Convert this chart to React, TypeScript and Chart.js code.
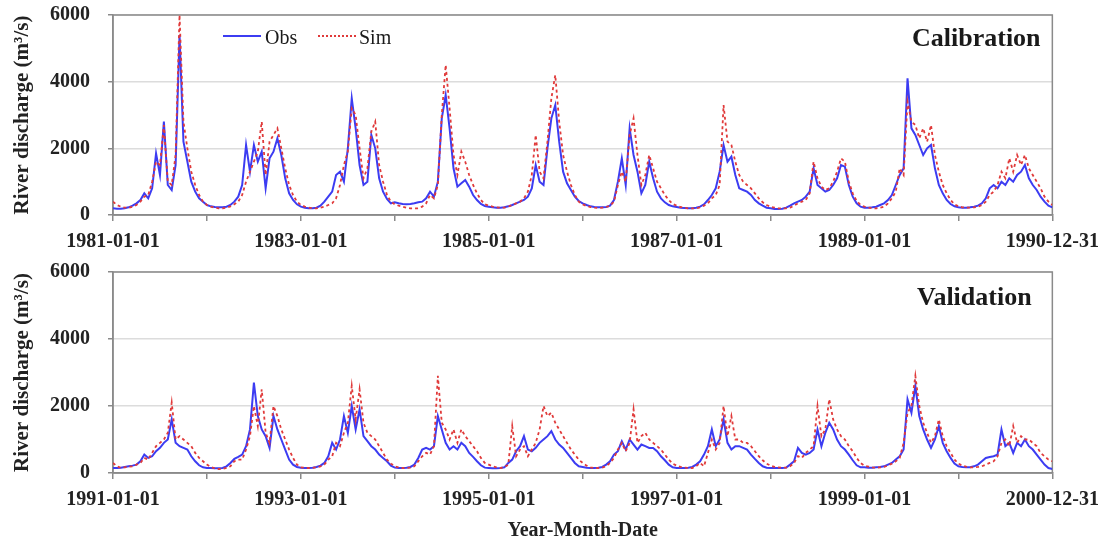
import React, { useEffect, useRef } from "react";
import { Chart, registerables } from "chart.js";

Chart.register(...registerables);

const SERIF = '"Liberation Serif", "Times New Roman", Times, serif';
const OBS_COLOR = "#3c3cf2";
const SIM_COLOR = "#e03a3a";
const STEPS_PER_YEAR = 24;

const Y_TICKS = [0, 2000, 4000, 6000];

const CAL_YEARS = [1981, 1982, 1983, 1984, 1985, 1986, 1987, 1988, 1989, 1990, 1991];
const CAL_TICK_LABELS = ["1981-01-01", "", "1983-01-01", "", "1985-01-01", "", "1987-01-01", "", "1989-01-01", "", "1990-12-31"];
const VAL_YEARS = [1991, 1992, 1993, 1994, 1995, 1996, 1997, 1998, 1999, 2000, 2001];
const VAL_TICK_LABELS = ["1991-01-01", "", "1993-01-01", "", "1995-01-01", "", "1997-01-01", "", "1999-01-01", "", "2000-12-31"];

// Calibration 1981-1990, semi-monthly values (m3/s)
const calObs = [
  200, 190, 190, 200, 230, 280, 350, 450, 650, 500, 800, 1850, 1200, 2800, 900, 750, 1500, 5400, 2200, 1600, 1000, 700, 500, 400,
  300, 260, 240, 230, 230, 250, 300, 400, 550, 900, 2100, 1300, 2100, 1600, 1900, 800, 1700, 1900, 2300, 1800, 1100, 650, 450, 320,
  250, 220, 200, 200, 220, 280, 400, 550, 700, 1200, 1300, 1000, 2000, 3500, 2600, 1500, 900, 1000, 2400, 2000, 1100, 700, 480, 350,
  380, 350, 330, 320, 330, 350, 380, 400, 500, 700, 550, 1000, 2900, 3600, 2600, 1400, 850, 950, 1050, 850, 600, 450, 330, 270,
  250, 230, 220, 220, 230, 260, 300, 350, 400, 450, 550, 800, 1500, 1000, 900, 2000, 2900, 3300, 2200, 1300, 950, 750, 550, 420,
  350, 300, 260, 240, 230, 230, 240, 280, 450, 1000, 1700, 900, 2600, 1800, 1300, 650, 900, 1600, 1100, 700, 500, 380, 300, 260,
  240, 220, 210, 200, 200, 220, 250, 320, 450, 600, 800, 1300, 2100, 1600, 1750, 1200, 800, 750, 700, 600, 450, 350, 280, 220,
  200, 180, 180, 190, 220, 280, 350, 400, 450, 550, 700, 1400, 900, 800, 700, 750, 900, 1100, 1500, 1450, 900, 550, 350, 250,
  220, 220, 230, 250, 300, 350, 450, 600, 900, 1200, 1400, 4100, 2600, 2400, 2100, 1800, 2000, 2100, 1400, 900, 650, 450, 330, 260,
  230, 220, 220, 230, 250, 280, 350, 500, 800, 900, 800, 1000, 900, 1100, 1000, 1200, 1300, 1500, 1100, 900, 750, 550, 400, 280,
  230,
];

const calSim = [
  400, 300, 250, 220, 220, 250, 300, 400, 550, 600, 1000, 1600, 1500, 2700, 1000, 900, 1800, 6000, 2800, 2000, 1300, 900, 600, 400,
  300, 250, 220, 200, 200, 220, 260, 320, 400, 600, 1000, 1300, 1600, 1900, 2800, 1200, 2200, 2400, 2600, 2000, 1400, 900, 600, 400,
  300, 250, 220, 200, 200, 220, 250, 300, 350, 500, 900, 1500, 1900, 3200, 3000, 2000, 1100, 1400, 2500, 2800, 1500, 1000, 600, 400,
  320, 280, 250, 220, 200, 200, 200, 250, 350, 600, 500, 900, 3000, 4500, 3200, 1800, 1200, 1900, 1600, 1200, 900, 650, 450, 320,
  280, 250, 230, 220, 220, 250, 300, 350, 400, 500, 700, 1200, 2400, 1300, 1100, 2200, 3500, 4200, 2800, 1800, 1300, 900, 600, 400,
  320, 270, 240, 220, 210, 220, 240, 280, 400, 900, 1300, 1000, 2400, 2900, 1800, 900, 1200, 1800, 1400, 1000, 800, 600, 450, 330,
  280, 240, 220, 200, 200, 200, 230, 280, 350, 500, 600, 900, 3300, 2200, 2100, 1600, 1200, 1000, 900, 800, 650, 500, 380, 300,
  250, 220, 200, 200, 200, 220, 280, 350, 400, 450, 650, 1600, 1100, 850, 750, 800, 1000, 1300, 1700, 1600, 1000, 650, 420, 300,
  250, 220, 200, 200, 220, 250, 350, 500, 700, 1400, 1200, 3400, 2800, 2700, 2300, 2600, 2200, 2700, 1800, 1300, 900, 650, 450, 320,
  260, 230, 220, 220, 230, 250, 300, 400, 600, 700, 900, 1300, 1100, 1700, 1300, 1800, 1500, 1800, 1400, 1200, 1000, 800, 550, 400,
  300,
];

// Validation 1991-2000, semi-monthly values (m3/s)
const valObs = [
  150, 150, 160, 180, 200, 220, 250, 350, 550, 450, 500, 650, 750, 900, 1000, 1600, 900, 800, 750, 700, 500, 350, 230, 170,
  150, 150, 140, 140, 150, 200, 300, 420, 480, 550, 800, 1300, 2700, 1700, 1300, 1100, 750, 1700, 1300, 1000, 700, 400, 250, 180,
  160, 150, 150, 160, 180, 220, 300, 500, 900, 700, 1000, 1700, 1200, 2000, 1300, 1900, 1100, 950, 800, 700, 550, 450, 350, 220,
  160, 150, 150, 160, 180, 250, 450, 700, 750, 700, 800, 1700, 1300, 900, 700, 800, 700, 900, 800, 600, 480, 350, 230, 160,
  150, 140, 140, 150, 170, 300, 400, 650, 800, 1100, 700, 650, 750, 900, 1000, 1100, 1250, 1000, 850, 750, 600, 450, 300, 200,
  180, 160, 150, 150, 160, 180, 250, 350, 550, 650, 950, 700, 1000, 850, 700, 850, 800, 750, 750, 650, 500, 380, 250, 170,
  150, 150, 150, 160, 180, 250, 350, 550, 800, 1300, 800, 1000, 1600, 900, 700, 800, 800, 750, 700, 550, 420, 300, 200, 160,
  150, 150, 150, 150, 160, 250, 350, 750, 600, 550, 600, 700, 1300, 800, 1200, 1500, 1300, 1000, 800, 700, 550, 380, 230, 170,
  170, 160, 160, 170, 180, 200, 250, 300, 400, 500, 700, 2200, 1800, 2600, 1700, 1300, 1000, 750, 1000, 1400, 900, 650, 450, 280,
  200, 180, 170, 170, 200, 250, 350, 450, 480, 500, 550, 1300, 800, 900, 600, 900, 800, 1000, 800, 700, 550, 400, 250, 150,
  120,
];

const valSim = [
  300, 200, 160, 170, 190, 200, 250, 300, 450, 400, 600, 800, 900, 1000, 1200, 2100, 1000, 1100, 1000, 900, 800, 600, 450, 350,
  250, 180, 140, 120, 120, 150, 200, 350, 400, 400, 700, 1100, 2000, 1400, 2500, 1200, 900, 2000, 1700, 1300, 1000, 700, 450, 250,
  170, 160, 150, 150, 170, 200, 250, 400, 500, 900, 800, 1200, 1500, 2600, 1600, 2500, 1500, 1200, 1100, 1000, 800, 600, 400, 280,
  200, 170, 150, 150, 160, 200, 350, 500, 600, 550, 800, 2900, 1500, 1300, 1000, 1300, 900, 1300, 1100, 950, 800, 650, 450, 300,
  250, 200, 170, 150, 170, 250, 1400, 500, 700, 800, 500, 700, 900, 1300, 2000, 1700, 1800, 1500, 1300, 1100, 900, 700, 550, 400,
  300, 220, 170, 150, 150, 160, 200, 300, 450, 700, 900, 650, 900, 1900, 900, 1100, 1200, 1000, 900, 800, 700, 550, 400, 280,
  220, 180, 160, 150, 150, 200, 300, 200, 600, 1000, 700, 900, 2000, 1100, 1700, 1000, 1000, 900, 900, 800, 650, 500, 380, 280,
  220, 180, 170, 160, 160, 200, 300, 500, 450, 600, 700, 800, 2000, 1100, 1300, 2200, 1600, 1300, 1100, 1000, 800, 650, 450, 300,
  220, 190, 170, 160, 170, 180, 220, 280, 350, 450, 900, 1800, 2000, 2900, 2000, 1500, 1200, 900, 1100, 1600, 1100, 800, 600, 400,
  280, 220, 190, 170, 170, 180, 200, 250, 300, 350, 500, 900, 1000, 800, 1400, 900, 1100, 1000, 1000, 900, 800, 600, 500, 400,
  350,
];

const framePlugin = {
  id: "frame",
  beforeDatasetsDraw(chart: any) {
    const { ctx, chartArea: a } = chart;
    ctx.save();
    ctx.strokeStyle = "#8a8a8a";
    ctx.lineWidth = 1.5;
    ctx.strokeRect(a.left, a.top, a.right - a.left, a.bottom - a.top);
    ctx.restore();
  },
};

type PanelProps = {
  top: number;
  height: number;
  padTop: number;
  xHeight: number;
  years: number[];
  tickLabels: string[];
  obs: number[];
  sim: number[];
  xTitle?: string;
};

function Panel(props: PanelProps) {
  const ref = useRef<HTMLCanvasElement>(null);
  useEffect(() => {
    const { years, tickLabels, obs, sim, padTop, xHeight, xTitle } = props;
    const start = years[0];
    const pts = (vals: number[]) => vals.map((v, i) => ({ x: start + i / STEPS_PER_YEAR, y: v }));
    const tickFont = { family: SERIF, size: 20, weight: "bold" as const };
    const chart = new Chart(ref.current as HTMLCanvasElement, {
      type: "line",
      data: {
        datasets: [
          { label: "Obs", data: pts(obs), borderColor: OBS_COLOR, borderWidth: 2, pointRadius: 0, order: 2, tension: 0 },
          { label: "Sim", data: pts(sim), borderColor: SIM_COLOR, borderWidth: 1.8, borderDash: [3, 3], pointRadius: 0, order: 1, tension: 0 },
        ],
      },
      options: {
        animation: false,
        responsive: false,
        devicePixelRatio: 1,
        layout: { padding: { left: 0, right: 53, top: padTop, bottom: 0 } },
        plugins: { legend: { display: false }, tooltip: { enabled: false } },
        scales: {
          x: {
            type: "linear",
            min: years[0],
            max: years[years.length - 1],
            afterBuildTicks: (s: any) => {
              s.ticks = years.map((v) => ({ value: v }));
            },
            afterFit: (s: any) => {
              s.height = xHeight;
            },
            ticks: {
              autoSkip: false,
              maxRotation: 0,
              minRotation: 0,
              padding: 9,
              color: "#222",
              font: tickFont,
              callback: (v: any) => {
                const idx = years.indexOf(Number(v));
                return idx >= 0 ? tickLabels[idx] : "";
              },
            },
            grid: { drawOnChartArea: false, drawTicks: true, tickLength: 6, color: "#8a8a8a", lineWidth: 1.5 },
            border: { display: true, color: "#8a8a8a", width: 1.5 },
            title: {
              display: !!xTitle,
              text: xTitle || "",
              color: "#222",
              font: { family: SERIF, size: 20, weight: "bold" },
              padding: { top: 0, bottom: 0 },
            },
          },
          y: {
            min: Y_TICKS[0],
            max: Y_TICKS[Y_TICKS.length - 1],
            afterBuildTicks: (s: any) => {
              s.ticks = Y_TICKS.map((v) => ({ value: v }));
            },
            afterFit: (s: any) => {
              s.width = 113;
              s.paddingTop = 0;
              s.paddingBottom = 0;
            },
            ticks: { padding: 18, color: "#222", font: tickFont, callback: (v: any) => String(v) },
            grid: { color: "#dcdcdc", lineWidth: 1.5, tickLength: 5, tickColor: "#8a8a8a", tickWidth: 1.5 },
            border: { display: true, color: "#8a8a8a", width: 1.5 },
            title: {
              display: true,
              text: "River discharge (m³/s)",
              color: "#222",
              font: { family: SERIF, size: 21, weight: "bold" },
              padding: { top: 10, bottom: 0 },
            },
          },
        },
      },
      plugins: [framePlugin],
    });
    return () => chart.destroy();
  }, []);
  return (
    <canvas
      ref={ref}
      width={1108}
      height={props.height}
      style={{ position: "absolute", left: 0, top: props.top, width: 1108, height: props.height }}
    />
  );
}

const textBase: React.CSSProperties = {
  position: "absolute",
  fontFamily: SERIF,
  color: "#1a1a1a",
  lineHeight: 1,
  whiteSpace: "nowrap",
};

export default function App() {
  return (
    <div style={{ position: "fixed", left: 0, top: 0, width: 1108, height: 543, background: "#fff", overflow: "hidden" }}>
      <Panel top={0} height={258} padTop={15} xHeight={43} years={CAL_YEARS} tickLabels={CAL_TICK_LABELS} obs={calObs} sim={calSim} />
      <Panel
        top={258}
        height={285}
        padTop={14}
        xHeight={70}
        years={VAL_YEARS}
        tickLabels={VAL_TICK_LABELS}
        obs={valObs}
        sim={valSim}
        xTitle="Year-Month-Date"
      />
      {/* legend */}
      <div style={{ position: "absolute", left: 223, top: 35, width: 38, borderTop: `2px solid ${OBS_COLOR}` }} />
      <div style={{ ...textBase, left: 265, top: 27, fontSize: 20 }}>Obs</div>
      <div style={{ position: "absolute", left: 318, top: 35, width: 38, borderTop: `2px dotted ${SIM_COLOR}` }} />
      <div style={{ ...textBase, left: 359, top: 27, fontSize: 20 }}>Sim</div>
      {/* panel labels */}
      <div style={{ ...textBase, left: 912, top: 25, fontSize: 26, fontWeight: "bold" }}>Calibration</div>
      <div style={{ ...textBase, left: 917, top: 284, fontSize: 26, fontWeight: "bold" }}>Validation</div>
    </div>
  );
}
